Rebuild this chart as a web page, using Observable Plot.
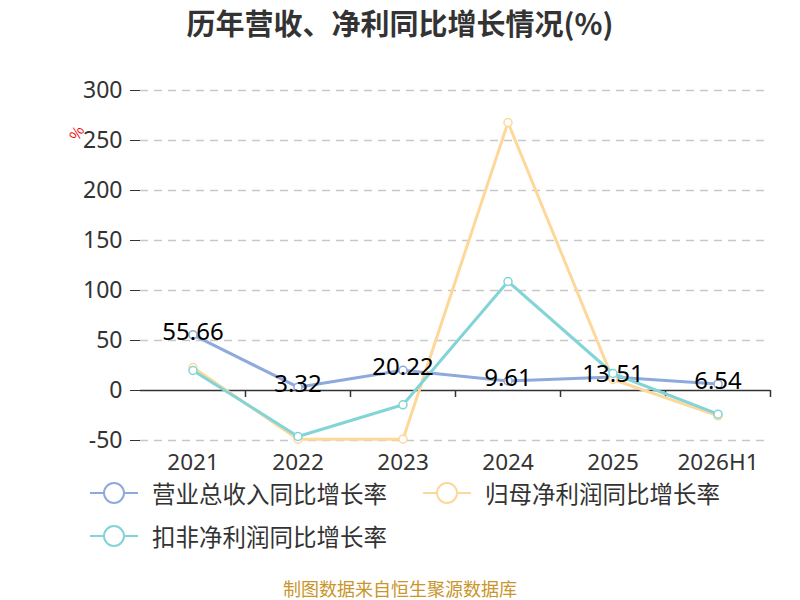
<!DOCTYPE html>
<html><head><meta charset="utf-8">
<script src="https://cdn.jsdelivr.net/npm/d3@7"></script>
<script src="https://cdn.jsdelivr.net/npm/@observablehq/plot@0.6"></script>
<style>
body{margin:0;background:#fff;font-family:"Noto Sans CJK SC","Noto Sans",sans-serif;}
#wrap{position:relative;width:800px;height:600px;overflow:hidden;}
#chart{position:absolute;left:0;top:0;}
.title{position:absolute;left:0;width:800px;top:2px;text-align:center;font-size:29px;font-weight:bold;color:#333;line-height:40px;}
.leg{position:absolute;display:flex;align-items:center;font-size:23.5px;line-height:24px;color:#333;}
.leg svg{margin-right:14px;}
.cap{position:absolute;left:0;width:800px;top:578px;text-align:center;font-size:18px;line-height:20px;color:#c9952c;}
.unit{position:absolute;left:69px;top:122px;font-size:15px;color:#e00;transform:rotate(-60deg);}
</style></head>
<body><div id="wrap">
<div id="chart"></div>
<div class="title">历年营收、净利同比增长情况(%)</div>
<div class="unit">%</div>
<div id="legend"></div>
<div class="cap">制图数据来自恒生聚源数据库</div>
</div>
<script>
const years = ["2021","2022","2023","2024","2025","2026H1"];
const revenueGrowth = [55.66, 3.32, 20.22, 9.61, 13.51, 6.54];
const netProfitGrowth = [23, -48.7, -48.7, 268, 11, -25.3];
const deductedProfitGrowth = [20, -46, -14.3, 109, 17, -23.7];
const seriesNames = ["营业总收入同比增长率","归母净利润同比增长率","扣非净利润同比增长率"];
const seriesColors = ["#8eaadc","#fdd89a","#82d4d6"];
const yTicks = [-50, 0, 50, 100, 150, 200, 250, 300];

const allSeries = [revenueGrowth, netProfitGrowth, deductedProfitGrowth];
const rows = [];
allSeries.forEach((vals, si) => vals.forEach((v, i) => rows.push({year: years[i], value: v, series: seriesNames[si]})));
const rev = years.map((y, i) => ({year: y, value: revenueGrowth[i]}));

const numFont = '"Noto Sans",sans-serif';
const marks = [
  Plot.ruleY(yTicks.filter(t => t !== 0), {stroke: "#c8c8c8", strokeWidth: 1.5, strokeDasharray: "8,6"}),
  Plot.ruleY([0], {stroke: "#333", strokeWidth: 1.5}),
  Plot.ruleX(years, {x: d => d, dx: 52.5, y1: 0, y2: -7, stroke: "#333", strokeWidth: 1.5}),
  Plot.axisY({ticks: yTicks, tickFormat: d => String(d), tickSize: 10, tickPadding: 8, fontSize: 23, fontFamily: numFont, color: "#333", label: null, stroke: "#333"}),
  Plot.ruleX([0], {frameAnchor: "left", y1: -50, y2: 300, stroke: "#333", strokeWidth: 1.5}),
  Plot.axisX({tickSize: 0, tickPadding: 14, fontSize: 22.5, fontFamily: numFont, color: "#333", label: null, anchor: "bottom"})
];
seriesNames.forEach((name, si) => {
  const d = rows.filter(r => r.series === name);
  marks.push(Plot.line(d, {x: "year", y: "value", stroke: seriesColors[si], strokeWidth: 3}));
  marks.push(Plot.dot(d, {x: "year", y: "value", r: 4, fill: "#fff", stroke: seriesColors[si], strokeWidth: 1.5}));
});
marks.push(Plot.text(rev, {x: "year", y: "value", text: d => d.value.toFixed(2), dy: -3, fontSize: 24, fontFamily: numFont, fill: "#000"}));

const chart = Plot.plot({
  width: 800, height: 600,
  marginTop: 90, marginBottom: 160, marginLeft: 140, marginRight: 30,
  style: {fontFamily: '"Noto Sans CJK SC","Noto Sans",sans-serif', background: "transparent"},
  x: {type: "band", domain: years, padding: 0, align: 0.5},
  y: {domain: [-50, 300]},
  marks
});
document.getElementById("chart").appendChild(chart);

const leg = document.getElementById("legend");
const pos = [[90, 479], [423, 479], [90, 522]];
seriesNames.forEach((name, i) => {
  const div = document.createElement("div");
  div.className = "leg";
  div.style.left = pos[i][0] + "px";
  div.style.top = pos[i][1] + "px";
  div.innerHTML = `<svg width="48" height="28"><line x1="0" x2="48" y1="14" y2="14" stroke="${seriesColors[i]}" stroke-width="2"/><circle cx="24" cy="14" r="10" fill="#fff" stroke="${seriesColors[i]}" stroke-width="2"/></svg><span>${name}</span>`;
  leg.appendChild(div);
});
</script>
</body></html>
